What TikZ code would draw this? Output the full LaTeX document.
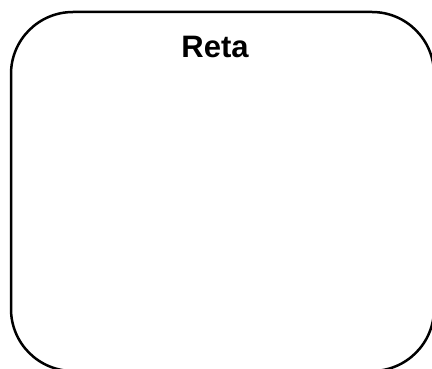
\documentclass[tikz,border=0pt]{standalone}
\usepackage{fontspec}
\setmainfont{Liberation Sans}
\begin{document}
\begin{tikzpicture}[x=1pt,y=-1pt,
  box/.style={draw=black, line width=2.5pt, rounded corners=62pt},
  title/.style={font=\fontsize{31}{36}\selectfont\bfseries, inner sep=0pt, anchor=base}]
\useasboundingbox (0,0) rectangle (432,369);
\clip (0,0) rectangle (432,369);
\draw[box] (11,12) rectangle (434,371);
\node[title] (t) at (215,58) {Reta};
\end{tikzpicture}
\end{document}
